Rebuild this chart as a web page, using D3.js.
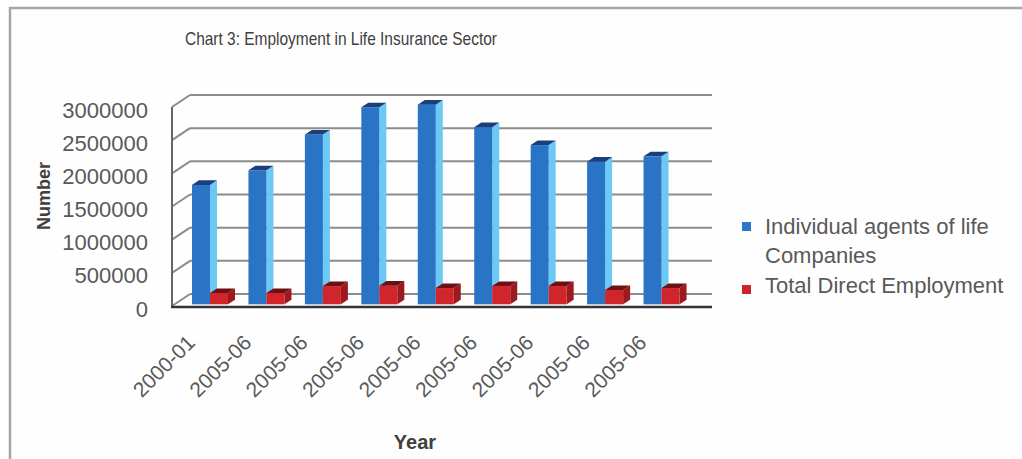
<!DOCTYPE html>
<html>
<head>
<meta charset="utf-8">
<script src="https://cdn.jsdelivr.net/npm/d3@7"></script>
<style>
  html, body { margin: 0; padding: 0; background: #ffffff; }
  svg { display: block; font-family: "Liberation Sans", Arial, sans-serif; }
</style>
</head>
<body>
<svg id="chart" width="1022" height="459"></svg>
<script>
const categories = ["2000-01", "2005-06", "2005-06", "2005-06", "2005-06", "2005-06", "2005-06", "2005-06", "2005-06"];
const agents = [1770000, 1990000, 2530000, 2940000, 2980000, 2640000, 2370000, 2120000, 2200000];
const direct = [140000, 140000, 245000, 250000, 215000, 245000, 245000, 185000, 215000];
const yTicks = [0, 500000, 1000000, 1500000, 2000000, 2500000, 3000000];
const seriesNames = ["Individual agents of life Companies", "Total Direct Employment"];

const W = 1022, H = 459;
const svg = d3.select("#chart");

// frame
svg.append("rect").attr("x", 10).attr("y", 8).attr("width", W + 10).attr("height", H + 10)
  .attr("fill", "#fefefe").attr("stroke", "#a6a6a6").attr("stroke-width", 2.5);

const frontLeft = 172, frontRight = 712;
const DX = 18, DY = -12;           // floor depth offset
const BFX = 5.5, BFY = -3.7;       // bar front face offset
const SDX = 7, SDY = -4.6;         // bar depth

const y = d3.scaleLinear().domain([0, 3000000]).range([306, 107]);
const x0 = d3.scaleBand().domain(d3.range(categories.length)).range([frontLeft, 680]);
const x1 = d3.scaleBand().domain([0, 1]).range([14.5, 50.5]);

// title
svg.append("text").attr("transform", "translate(185,45) scale(0.86,1)")
  .attr("font-size", 18).attr("fill", "#404040")
  .text("Chart 3: Employment in Life Insurance Sector");

// back wall gridlines + side wall diagonals
const grid = svg.append("g").attr("stroke", "#8c8c8c").attr("stroke-width", 2).attr("fill", "none");
yTicks.forEach(t => {
  grid.append("line").attr("x1", frontLeft + DX).attr("x2", frontRight)
    .attr("y1", y(t) + DY).attr("y2", y(t) + DY);
  grid.append("line").attr("x1", frontLeft).attr("x2", frontLeft + DX)
    .attr("y1", y(t)).attr("y2", y(t) + DY);
});
// left axis
svg.append("line").attr("x1", frontLeft).attr("x2", frontLeft)
  .attr("y1", y(0)).attr("y2", y(3000000))
  .attr("stroke", "#666").attr("stroke-width", 2);

// y tick labels
svg.append("g").selectAll("text").data(yTicks).join("text")
  .attr("x", 148).attr("y", d => y(d) + 3)
  .attr("text-anchor", "end").attr("dominant-baseline", "central")
  .attr("font-size", 22).attr("fill", "#595959")
  .text(d => d);

// bars
const palettes = [
  { front: "#2a74c6", side: "#6cc8f4", top: "#1b3f7c" },
  { front: "#d0262b", side: "#9c1a1e", top: "#6e1012" }
];
const seriesData = [agents, direct];
const bars = svg.append("g");
categories.forEach((c, i) => {
  [0, 1].forEach(s => {
    const v = seriesData[s][i];
    const xl = x0(i) + x1(s) + BFX;
    const w = x1.bandwidth();
    const yb = y(0) + BFY + 2;
    const yt = y(v) + BFY;
    const p = palettes[s];
    bars.append("path")
      .attr("d", `M${xl + w},${yb} L${xl + w + SDX},${yb + SDY} L${xl + w + SDX},${yt + SDY} L${xl + w},${yt} Z`)
      .attr("fill", p.side);
    bars.append("rect").attr("x", xl).attr("y", yt).attr("width", w).attr("height", yb - yt)
      .attr("fill", p.front);
    bars.append("path")
      .attr("d", `M${xl},${yt} L${xl + w},${yt} L${xl + w + SDX},${yt + SDY} L${xl + SDX},${yt + SDY} Z`)
      .attr("fill", p.top);
  });
});

// front baseline
svg.append("line").attr("x1", frontLeft - 1).attr("x2", frontRight)
  .attr("y1", y(0) + 1).attr("y2", y(0) + 1)
  .attr("stroke", "#333").attr("stroke-width", 2.5);

// x labels
svg.append("g").selectAll("text").data(categories).join("text")
  .attr("transform", (d, i) => `translate(${x0(i) + x0.bandwidth() / 2 - 4},344) rotate(-45)`)
  .attr("text-anchor", "end")
  .attr("font-size", 21).attr("fill", "#595959")
  .text(d => d);

// axis titles
svg.append("text").attr("x", 415).attr("y", 449).attr("text-anchor", "middle")
  .attr("font-size", 20).attr("font-weight", "bold").attr("fill", "#404040").text("Year");
svg.append("text").attr("transform", "translate(50,196) rotate(-90)").attr("text-anchor", "middle")
  .attr("font-size", 18).attr("font-weight", "bold").attr("fill", "#404040").text("Number");

// legend
const legendColors = ["#2e76c8", "#c8262c"];
const lg = svg.append("g");
lg.append("rect").attr("x", 742).attr("y", 222).attr("width", 9).attr("height", 9).attr("fill", legendColors[0]);
lg.append("text").attr("x", 765).attr("y", 226).attr("dominant-baseline", "central")
  .attr("font-size", 22).attr("fill", "#595959").text("Individual agents of life");
lg.append("text").attr("x", 765).attr("y", 255).attr("dominant-baseline", "central")
  .attr("font-size", 22).attr("fill", "#595959").text("Companies");
lg.append("rect").attr("x", 742).attr("y", 285).attr("width", 9).attr("height", 9).attr("fill", legendColors[1]);
lg.append("text").attr("x", 765).attr("y", 285).attr("dominant-baseline", "central")
  .attr("font-size", 22).attr("fill", "#595959").text(seriesNames[1]);
</script>
</body>
</html>
